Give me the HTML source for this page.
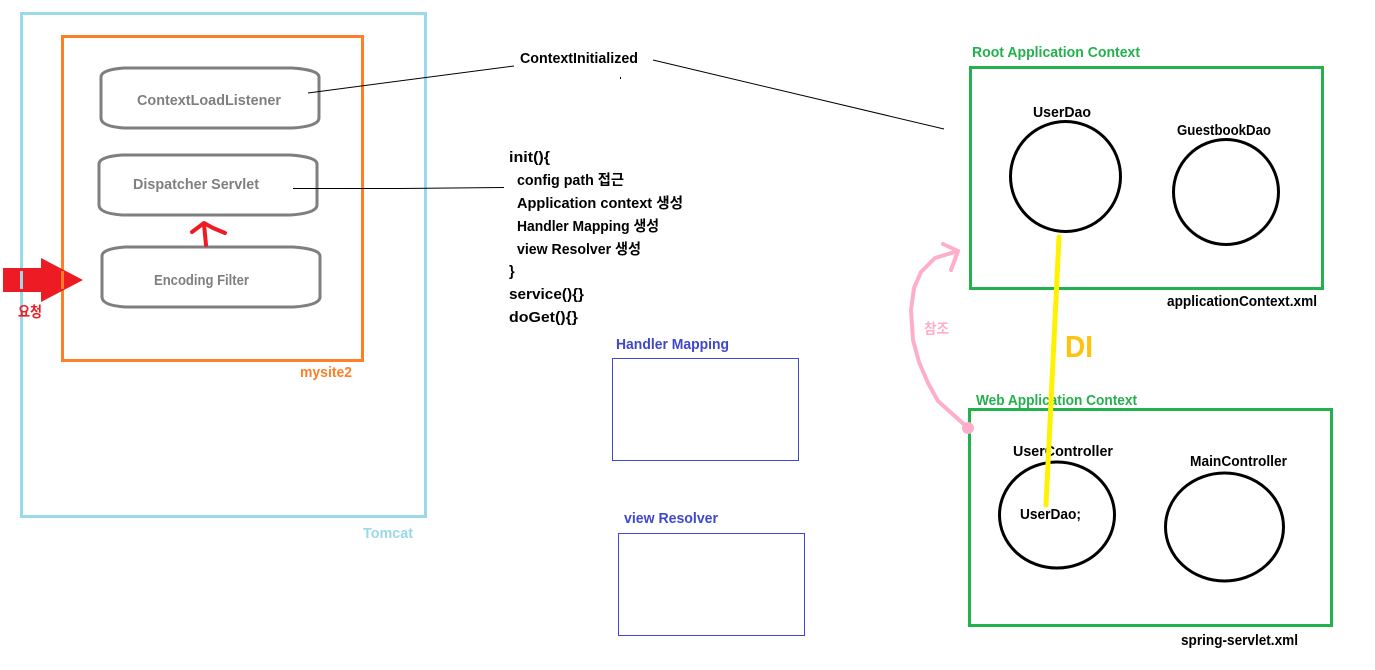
<!DOCTYPE html>
<html lang="ko">
<head>
<meta charset="utf-8">
<title>Spring context diagram</title>
<style>
html,body{margin:0;padding:0;background:#fff;width:1375px;height:670px;overflow:hidden}
svg{display:block}
text{font-family:"Liberation Sans","Noto Sans CJK KR",sans-serif;font-size:14.5px;font-weight:bold;fill:#000}
.g{fill:#7f7f7f}.gr{fill:#22b14c}.b{fill:#3f48cc}
</style>
</head>
<body>
<svg width="1375" height="670" viewBox="0 0 1375 670" xmlns="http://www.w3.org/2000/svg">
<rect width="1375" height="670" fill="#fff"/>

<!-- containers -->
<rect x="21.5" y="13.5" width="404" height="503" fill="none" stroke="#99d9ea" stroke-width="3"/>
<rect x="62.5" y="36.5" width="300" height="324" fill="none" stroke="#ff7f27" stroke-width="3"/>

<!-- red request arrow -->
<polygon points="3,268 41,268 41,258 83,280 41,302 41,292 3,292" fill="#ed1c24"/>
<rect x="20" y="271" width="3" height="18" fill="#99d9ea"/>
<rect x="61" y="271" width="3" height="18" fill="#ff7f27"/>

<!-- rounded gray shapes -->
<g fill="none" stroke="#7f7f7f" stroke-width="3">
<path d="M124,68 H292 C308,69 319,72 319,77 V118 C319,124 308,127 292,128 H124 C110,127 101,124 101,118 V77 C101,72 110,69 124,68 Z"/>
<path d="M122,155 H290 C306,156 317,159 317,164 V205 C317,211 306,214 290,215 H122 C108,214 99,211 99,205 V164 C99,159 108,156 122,155 Z"/>
<path d="M125,247 H293 C309,248 320,251 320,256 V297 C320,303 309,306 293,307 H125 C111,306 102,303 102,297 V256 C102,251 111,248 125,247 Z"/>
</g>

<!-- small red arrow -->
<g fill="none" stroke="#ed1c24" stroke-width="4" stroke-linecap="round" stroke-linejoin="round">
<path d="M206,245 L204,224"/>
<path d="M192,232 L204,223 L213,228 L225,233"/>
</g>

<!-- black connectors -->
<g fill="none" stroke="#000" stroke-width="1">
<path d="M308,93 L514,66"/>
<path d="M653,60 L944,129"/>
<path d="M293,188.5 H400 L504,187.5"/>
</g>
<rect x="620" y="77" width="1" height="2" fill="#000"/>

<!-- labels left -->
<text class="g" x="137" y="105" textLength="144" lengthAdjust="spacingAndGlyphs">ContextLoadListener</text>
<text class="g" x="133" y="189" textLength="126" lengthAdjust="spacingAndGlyphs">Dispatcher Servlet</text>
<text class="g" x="154" y="285" textLength="95" lengthAdjust="spacingAndGlyphs">Encoding Filter</text>
<text x="18" y="317" textLength="24" lengthAdjust="spacingAndGlyphs" style="fill:#ed1c24">요청</text>
<text x="300" y="377" textLength="52" lengthAdjust="spacingAndGlyphs" style="fill:#ff7f27">mysite2</text>
<text x="363" y="538" textLength="50" lengthAdjust="spacingAndGlyphs" style="fill:#99d9ea">Tomcat</text>

<!-- middle text -->
<text x="520" y="63" textLength="118" lengthAdjust="spacingAndGlyphs">ContextInitialized</text>
<text x="509" y="162" textLength="41" lengthAdjust="spacingAndGlyphs">init(){</text>
<text x="517" y="185" textLength="107" lengthAdjust="spacingAndGlyphs">config path 접근</text>
<text x="517" y="208" textLength="166" lengthAdjust="spacingAndGlyphs">Application context 생성</text>
<text x="517" y="231" textLength="142" lengthAdjust="spacingAndGlyphs">Handler Mapping 생성</text>
<text x="517" y="254" textLength="124" lengthAdjust="spacingAndGlyphs">view Resolver 생성</text>
<text x="509" y="276">}</text>
<text x="509" y="299" textLength="75" lengthAdjust="spacingAndGlyphs">service(){}</text>
<text x="509" y="322" textLength="69" lengthAdjust="spacingAndGlyphs">doGet(){}</text>

<text class="b" x="616" y="349" textLength="113" lengthAdjust="spacingAndGlyphs">Handler Mapping</text>
<rect x="612.5" y="358.5" width="186" height="102" fill="none" stroke="#3f48cc" stroke-width="1"/>
<text class="b" x="624" y="523" textLength="94" lengthAdjust="spacingAndGlyphs">view Resolver</text>
<rect x="618.5" y="533.5" width="186" height="102" fill="none" stroke="#3f48cc" stroke-width="1"/>

<!-- right contexts -->
<text class="gr" x="972" y="57" textLength="168" lengthAdjust="spacingAndGlyphs">Root Application Context</text>
<rect x="970.5" y="67.5" width="352" height="221" fill="none" stroke="#22b14c" stroke-width="3"/>
<text x="1033" y="117" textLength="58" lengthAdjust="spacingAndGlyphs">UserDao</text>
<circle cx="1065.5" cy="176.5" r="55" fill="none" stroke="#000" stroke-width="3"/>
<text x="1177" y="135" textLength="94" lengthAdjust="spacingAndGlyphs">GuestbookDao</text>
<circle cx="1226" cy="192" r="52.5" fill="none" stroke="#000" stroke-width="3"/>
<text x="1167" y="306" textLength="150" lengthAdjust="spacingAndGlyphs">applicationContext.xml</text>

<text class="gr" x="976" y="405" textLength="161" lengthAdjust="spacingAndGlyphs">Web Application Context</text>
<rect x="969.5" y="409.5" width="362" height="216" fill="none" stroke="#22b14c" stroke-width="3"/>
<text x="1013" y="456" textLength="100" lengthAdjust="spacingAndGlyphs">UserController</text>
<ellipse cx="1057" cy="515" rx="57.5" ry="53" fill="none" stroke="#000" stroke-width="3"/>
<text x="1020" y="519" textLength="61" lengthAdjust="spacingAndGlyphs">UserDao;</text>
<text x="1190" y="466" textLength="97" lengthAdjust="spacingAndGlyphs">MainController</text>
<ellipse cx="1224.5" cy="527" rx="59" ry="54" fill="none" stroke="#000" stroke-width="3"/>
<text x="1181" y="645" textLength="117" lengthAdjust="spacingAndGlyphs">spring-servlet.xml</text>

<!-- DI line -->
<path d="M1059,237 L1046,505" fill="none" stroke="#fff200" stroke-width="5" stroke-linecap="round"/>
<text x="1065" y="357" textLength="28" lengthAdjust="spacingAndGlyphs" style="font-size:31px;fill:#ffc20e">DI</text>

<!-- pink reference arrow -->
<g fill="none" stroke="#ffaec9" stroke-width="4" stroke-linecap="round" stroke-linejoin="round">
<path d="M968,428 L938,401 L928,383 L919,362 L913,340 L911,310 L914,288 L921,272 L935,258 L958,251"/>
<path d="M943,244 L958,251 L951,270"/>
</g>
<circle cx="968" cy="428" r="6" fill="#ffaec9"/>
<text x="924" y="334" textLength="25" lengthAdjust="spacingAndGlyphs" style="fill:#ffaec9">참조</text>
</svg>
</body>
</html>
